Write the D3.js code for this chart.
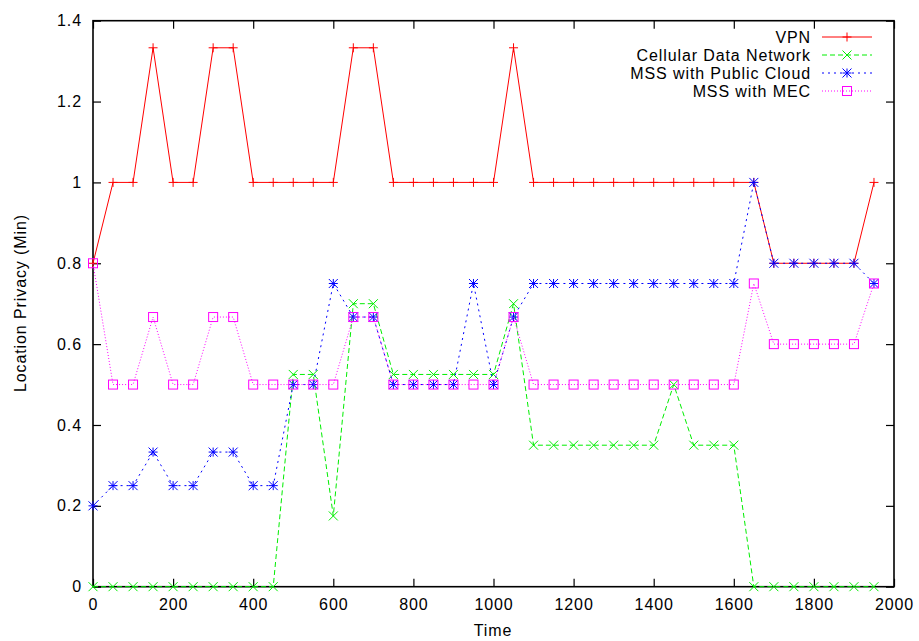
<!DOCTYPE html>
<html><head><meta charset="utf-8">
<script src="https://cdnjs.cloudflare.com/ajax/libs/d3/7.8.5/d3.min.js"></script>
<style>
body{margin:0;background:#fff;}
svg{display:block;font-family:"Liberation Sans",Arial,sans-serif;}
</style></head><body>
<svg id="c" width="919" height="641"></svg>
<script>
const times = [0,50,100,150,200,250,300,350,400,450,500,550,600,650,700,750,800,850,900,950,1000,1050,1100,1150,1200,1250,1300,1350,1400,1450,1500,1550,1600,1650,1700,1750,1800,1850,1900,1950];
const vpn = [0.8,1,1,1.333,1,1,1.333,1.333,1,1,1,1,1,1.333,1.333,1,1,1,1,1,1,1.333,1,1,1,1,1,1,1,1,1,1,1,1,0.8,0.8,0.8,0.8,0.8,1];
const cellular = [0,0,0,0,0,0,0,0,0,0,0.525,0.525,0.175,0.7,0.7,0.525,0.525,0.525,0.525,0.525,0.525,0.7,0.35,0.35,0.35,0.35,0.35,0.35,0.35,0.5,0.35,0.35,0.35,0,0,0,0,0,0,0];
const publicCloud = [0.2,0.25,0.25,0.333,0.25,0.25,0.333,0.333,0.25,0.25,0.5,0.5,0.75,0.667,0.667,0.5,0.5,0.5,0.5,0.75,0.5,0.667,0.75,0.75,0.75,0.75,0.75,0.75,0.75,0.75,0.75,0.75,0.75,1,0.8,0.8,0.8,0.8,0.8,0.75];
const mec = [0.8,0.5,0.5,0.667,0.5,0.5,0.667,0.667,0.5,0.5,0.5,0.5,0.5,0.667,0.667,0.5,0.5,0.5,0.5,0.5,0.5,0.667,0.5,0.5,0.5,0.5,0.5,0.5,0.5,0.5,0.5,0.5,0.5,0.75,0.6,0.6,0.6,0.6,0.6,0.75];
const seriesNames = ["VPN","Cellular Data Network","MSS with Public Cloud","MSS with MEC"];
const xTicks = [0,200,400,600,800,1000,1200,1400,1600,1800,2000];
const yTicks = [0,0.2,0.4,0.6,0.8,1,1.2,1.4];

const styles = [
  {color:"#ff0000", dash:null, marker:"plus"},
  {color:"#00ee00", dash:"5,3", marker:"cross"},
  {color:"#0000ff", dash:"2,4", marker:"star"},
  {color:"#ff00ff", dash:"1,2", marker:"square"}
];
const allSeries = [vpn, cellular, publicCloud, mec];

const FS = "16px", LS = "0.9px";
const svg = d3.select("#c");
const L=93, R=894, T=20.7, B=586.7;
const x = d3.scaleLinear().domain([0,2000]).range([L,R]);
const y = d3.scaleLinear().domain([0,1.4]).range([B,T]);

function drawMarker(g, type, cx, cy, color){
  const s=4.5;
  if(type==="plus"||type==="star"){
    g.append("line").attr("x1",cx-s).attr("x2",cx+s).attr("y1",cy).attr("y2",cy).attr("stroke",color);
    g.append("line").attr("x1",cx).attr("x2",cx).attr("y1",cy-s).attr("y2",cy+s).attr("stroke",color);
  }
  if(type==="cross"||type==="star"){
    g.append("line").attr("x1",cx-s).attr("x2",cx+s).attr("y1",cy-s).attr("y2",cy+s).attr("stroke",color);
    g.append("line").attr("x1",cx-s).attr("x2",cx+s).attr("y1",cy+s).attr("y2",cy-s).attr("stroke",color);
  }
  if(type==="square"){
    g.append("rect").attr("x",cx-4.5).attr("y",cy-4.5).attr("width",9).attr("height",9).attr("fill","none").attr("stroke",color);
  }
}

// axes
const fmt = d => String(+d.toFixed(1));
const axB = svg.append("g").attr("transform",`translate(0,${B})`).call(d3.axisBottom(x).tickValues(xTicks).tickSize(-8).tickPadding(12).tickFormat(d=>String(d)));
const axT = svg.append("g").attr("transform",`translate(0,${T})`).call(d3.axisTop(x).tickValues(xTicks).tickSize(-8).tickFormat(""));
const axL = svg.append("g").attr("transform",`translate(${L},0)`).call(d3.axisLeft(y).tickValues(yTicks).tickSize(-8).tickPadding(11).tickFormat(fmt));
const axR = svg.append("g").attr("transform",`translate(${R},0)`).call(d3.axisRight(y).tickValues(yTicks).tickSize(-8).tickFormat(""));
[axB,axT,axL,axR].forEach(a=>{
  a.select(".domain").remove();
  a.selectAll(".tick line").attr("stroke","#000").attr("stroke-width",1.2);
  a.selectAll("text").attr("font-size",FS).attr("letter-spacing",LS).attr("fill","#000").attr("font-family","Liberation Sans, Arial, sans-serif");
});
axB.selectAll("text").attr("dy","0.71em");

svg.append("rect").attr("x",L).attr("y",T).attr("width",R-L).attr("height",B-T)
  .attr("fill","none").attr("stroke","#000").attr("stroke-width",1.6);

// series
const line = d3.line().x((d,i)=>x(times[i])).y(d=>y(d));
allSeries.forEach((vals,k)=>{
  const st = styles[k];
  const g = svg.append("g");
  g.append("path").datum(vals).attr("d",line).attr("fill","none").attr("stroke",st.color).attr("stroke-width",1)
    .attr("stroke-dasharray",st.dash);
  vals.forEach((v,i)=>drawMarker(g, st.marker, x(times[i]), y(v), st.color));
});

// legend
const legY = [37,55,73,91];
seriesNames.forEach((n,k)=>{
  const st = styles[k];
  const g = svg.append("g");
  g.append("text").attr("x",811).attr("y",legY[k]).attr("dy","0.35em").attr("text-anchor","end")
    .attr("font-size",FS).attr("letter-spacing",LS).attr("fill","#000").text(n);
  g.append("line").attr("x1",822).attr("x2",872).attr("y1",legY[k]).attr("y2",legY[k])
    .attr("stroke",st.color).attr("stroke-dasharray",st.dash);
  drawMarker(g, st.marker, 847, legY[k], st.color);
});

// axis titles
svg.append("text").attr("x",493).attr("y",630).attr("dy","0.35em").attr("text-anchor","middle")
  .attr("font-size",FS).attr("letter-spacing",LS).attr("fill","#000").text("Time");
svg.append("text").attr("transform","translate(20,303) rotate(-90)").attr("dy","0.35em").attr("text-anchor","middle")
  .attr("font-size",FS).attr("letter-spacing",LS).attr("fill","#000").text("Location Privacy (Min)");
</script>
</body></html>
